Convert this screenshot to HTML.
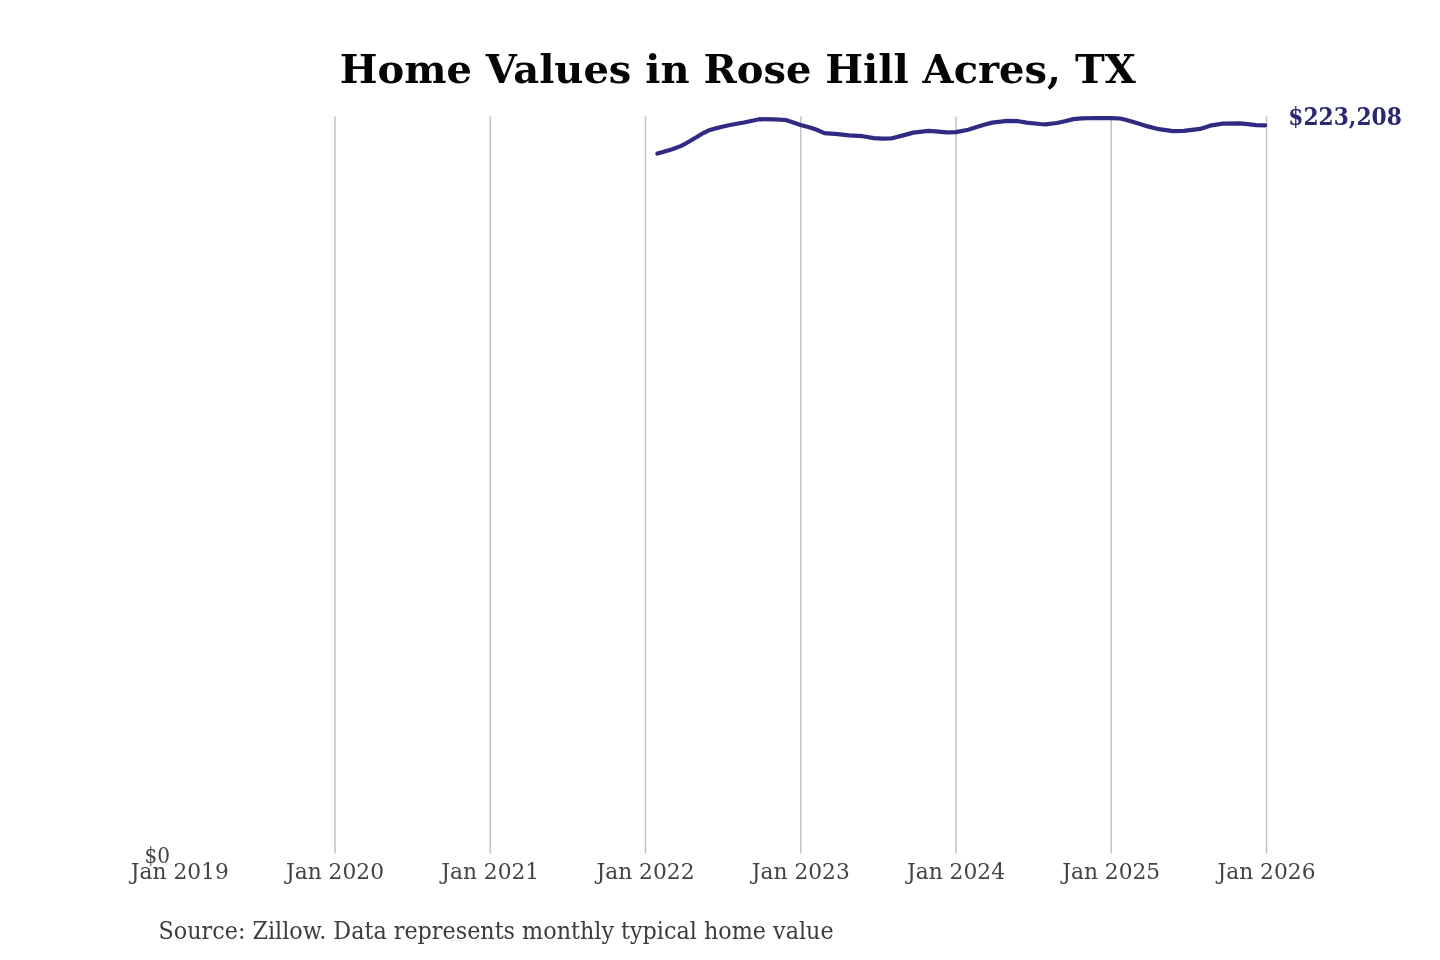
<!DOCTYPE html>
<html><head><meta charset="utf-8"><title>Home Values in Rose Hill Acres, TX</title>
<style>
html,body{margin:0;padding:0;background:#fff;}
body{width:1440px;height:960px;overflow:hidden;}
svg{display:block;filter:blur(0.45px);}
text{font-family:"DejaVu Serif","Liberation Serif",serif;}
</style></head><body>
<svg width="1440" height="960" viewBox="0 0 1440 960">
<rect width="1440" height="960" fill="#fff"/>
<text x="737.7" y="82.8" text-anchor="middle" font-size="40" font-weight="bold" fill="#050505">Home Values in Rose Hill Acres, TX</text>
<g stroke="#c2c2c2" stroke-width="1.5">
<line x1="335.0" y1="116.5" x2="335.0" y2="853.5" />
<line x1="490.2" y1="116.5" x2="490.2" y2="853.5" />
<line x1="645.5" y1="116.5" x2="645.5" y2="853.5" />
<line x1="800.8" y1="116.5" x2="800.8" y2="853.5" />
<line x1="956.0" y1="116.5" x2="956.0" y2="853.5" />
<line x1="1111.2" y1="116.5" x2="1111.2" y2="853.5" />
<line x1="1266.5" y1="116.5" x2="1266.5" y2="853.5" />
</g>
<polyline points="657.4,153.6 663.9,151.7 672.2,149.2 680.6,146.1 686.1,143.3 691.7,140.0 697.2,136.7 702.8,133.3 708.3,130.6 716.7,128.1 722.2,126.7 730.0,125.0 743.9,122.5 759.4,119.2 774.4,119.4 785.6,120.0 791.1,121.7 800.6,125.0 810.0,127.5 816.7,129.8 824.4,133.1 837.8,134.2 848.9,135.3 862.8,136.2 873.9,138.1 882.2,138.7 891.0,138.5 902.2,135.6 913.3,132.6 928.3,130.9 935.6,131.4 946.7,132.3 956.0,132.1 968.3,129.8 976.7,127.0 985.0,124.5 992.2,122.6 1007.2,120.9 1018.3,121.2 1026.7,122.6 1040.0,124.0 1045.6,124.4 1056.7,123.0 1065.0,121.3 1073.3,119.1 1081.7,118.3 1095.6,118.0 1111.1,118.1 1120.0,118.5 1125.6,119.8 1136.7,123.1 1147.8,126.4 1158.9,129.2 1172.8,131.2 1183.9,130.9 1192.2,129.8 1200.0,128.9 1211.7,125.3 1222.8,123.7 1239.4,123.4 1247.8,124.2 1256.1,125.1 1265.2,125.3" fill="none" stroke="#312a82" stroke-width="4.2" stroke-linejoin="round" stroke-linecap="round"/>
<text x="1288.3" y="124.6" font-size="23.5" font-weight="bold" fill="#2a2872" textLength="113.5" lengthAdjust="spacingAndGlyphs">$223,208</text>
<g font-size="23.0" fill="#444">
<text x="144.6" y="863.4" textLength="25.5" lengthAdjust="spacingAndGlyphs">$0</text>
<text x="130.8" y="879.4" textLength="98.0" lengthAdjust="spacingAndGlyphs">Jan 2019</text>
<text x="286.0" y="879.4" textLength="98.0" lengthAdjust="spacingAndGlyphs">Jan 2020</text>
<text x="441.2" y="879.4" textLength="98.0" lengthAdjust="spacingAndGlyphs">Jan 2021</text>
<text x="596.5" y="879.4" textLength="98.0" lengthAdjust="spacingAndGlyphs">Jan 2022</text>
<text x="751.8" y="879.4" textLength="98.0" lengthAdjust="spacingAndGlyphs">Jan 2023</text>
<text x="907.0" y="879.4" textLength="98.0" lengthAdjust="spacingAndGlyphs">Jan 2024</text>
<text x="1062.2" y="879.4" textLength="98.0" lengthAdjust="spacingAndGlyphs">Jan 2025</text>
<text x="1217.5" y="879.4" textLength="98.0" lengthAdjust="spacingAndGlyphs">Jan 2026</text>
<text x="158.6" y="938.9" font-size="23.5" fill="#3c3c3c" textLength="675" lengthAdjust="spacingAndGlyphs">Source: Zillow. Data represents monthly typical home value</text>
</g>
</svg>
</body></html>
